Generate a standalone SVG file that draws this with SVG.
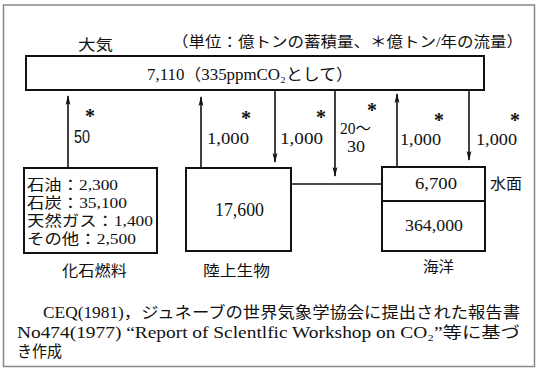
<svg xmlns="http://www.w3.org/2000/svg" width="537" height="373" viewBox="0 0 537 373">
<defs>
<marker id="tip" markerUnits="userSpaceOnUse" markerWidth="10" markerHeight="6" refX="9" refY="3" orient="auto" viewBox="0 0 10 6">
<path d="M0,0.6 L10,3 L0,5.4 L2,3 Z" fill="#111"/>
</marker>
<style>
.box{fill:#fff;stroke:#111;stroke-width:2}
.ln{fill:none;stroke:#111;stroke-width:1.6}
.arr{fill:none;stroke:#111;stroke-width:1.6;marker-end:url(#tip)}
text{fill:#111;font-family:"Liberation Serif","Noto Sans CJK JP",serif}
.jp{font-size:15px}
.num{font-size:16px}
.star{font-size:20px;font-weight:bold;text-anchor:middle}
.lbl{font-size:15px;text-anchor:middle}
.sans{font-family:"Liberation Sans",sans-serif;font-size:18px}
</style>
</defs>
<rect x="3.5" y="5" width="531" height="361.5" fill="#fff" stroke="#888" stroke-width="1.5"/>

<g id="title">
<text class="jp" x="78" y="50" textLength="35" lengthAdjust="spacingAndGlyphs">大気</text>
<text class="jp" x="172" y="47" textLength="351" lengthAdjust="spacingAndGlyphs">（単位：億トンの蓄積量、＊億トン/年の流量）</text>
</g>

<g id="atmosphere">
<rect class="box" x="26" y="56" width="458" height="34"/>
<text class="num" x="147" y="80" textLength="206" lengthAdjust="spacingAndGlyphs">7,110（335ppmCO₂として）</text>
</g>

<g id="fossil">
<rect class="box" x="24" y="168" width="133" height="85"/>
<text class="jp" x="27" y="190" textLength="91" lengthAdjust="spacingAndGlyphs">石油：2,300</text>
<text class="jp" x="27" y="208" textLength="100" lengthAdjust="spacingAndGlyphs">石炭：35,100</text>
<text class="jp" x="27" y="226" textLength="126" lengthAdjust="spacingAndGlyphs">天然ガス：1,400</text>
<text class="jp" x="27" y="244" textLength="109" lengthAdjust="spacingAndGlyphs">その他：2,500</text>
<text class="lbl" x="94.5" y="276" textLength="65" lengthAdjust="spacingAndGlyphs">化石燃料</text>
</g>

<g id="land">
<rect class="box" x="186" y="168" width="105" height="83"/>
<text class="num" x="215" y="216" style="font-size:18px" textLength="49" lengthAdjust="spacingAndGlyphs">17,600</text>
<text class="lbl" x="236.5" y="276" textLength="67" lengthAdjust="spacingAndGlyphs">陸上生物</text>
</g>

<g id="ocean">
<rect class="box" x="382" y="167" width="103" height="84"/>
<line class="ln" x1="382" y1="201" x2="485" y2="201" style="stroke-width:2"/>
<text class="num" x="415" y="189" style="font-size:17px" textLength="42" lengthAdjust="spacingAndGlyphs">6,700</text>
<text class="num" x="405" y="231" style="font-size:17px" textLength="58" lengthAdjust="spacingAndGlyphs">364,000</text>
<text class="jp" x="490" y="189" textLength="32" lengthAdjust="spacingAndGlyphs">水面</text>
<text class="lbl" x="438.5" y="272" textLength="31" lengthAdjust="spacingAndGlyphs">海洋</text>
</g>

<g id="connectors">
<line class="arr" x1="68" y1="168" x2="68" y2="96"/>
<line class="arr" x1="201" y1="168" x2="201" y2="97"/>
<line class="arr" x1="275" y1="90" x2="275" y2="162"/>
<line class="arr" x1="335" y1="90" x2="335" y2="176"/>
<line class="arr" x1="397" y1="167" x2="397" y2="94"/>
<line class="arr" x1="469" y1="90" x2="469" y2="160"/>
<line class="ln" x1="291" y1="184" x2="382" y2="184"/>

<text class="star" x="90" y="123">*</text>
<text class="star" x="246" y="125">*</text>
<text class="star" x="321" y="124">*</text>
<text class="star" x="372" y="117">*</text>
<text class="star" x="439" y="127">*</text>
<text class="star" x="515" y="127">*</text>

<text class="sans" x="74" y="143" textLength="16" lengthAdjust="spacingAndGlyphs">50</text>
<text class="num" x="207" y="144" textLength="42" lengthAdjust="spacingAndGlyphs">1,000</text>
<text class="num" x="280" y="144" textLength="43" lengthAdjust="spacingAndGlyphs">1,000</text>
<text class="num" x="340" y="134" textLength="31" lengthAdjust="spacingAndGlyphs">20～</text>
<text class="num" x="347" y="152" textLength="18" lengthAdjust="spacingAndGlyphs">30</text>
<text class="num" x="400" y="145" textLength="41" lengthAdjust="spacingAndGlyphs">1,000</text>
<text class="num" x="476" y="145" textLength="41" lengthAdjust="spacingAndGlyphs">1,000</text>
</g>

<g id="footer">
<text class="num" x="43" y="318" textLength="477" lengthAdjust="spacingAndGlyphs">CEQ(1981)，ジュネーブの世界気象学協会に提出された報告書</text>
<text class="num" x="17" y="338" textLength="503" lengthAdjust="spacingAndGlyphs">No474(1977) “Report of Sclentlfic Workshop on CO₂”等に基づ</text>
<text class="num" x="17" y="357" textLength="45" lengthAdjust="spacingAndGlyphs">き作成</text>
</g>
</svg>
